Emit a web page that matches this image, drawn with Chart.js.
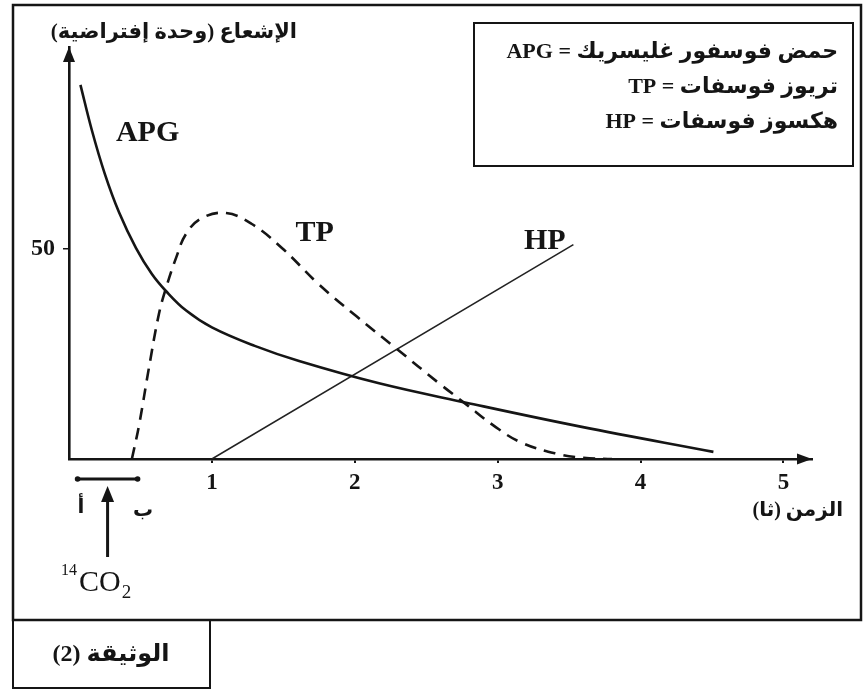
<!DOCTYPE html>
<html lang="ar">
<head>
<meta charset="utf-8">
<script src="https://cdn.jsdelivr.net/npm/chart.js@4.4.1/dist/chart.umd.min.js"></script>
<style>
  html, body { margin: 0; padding: 0; background: #fff; }
</style>
</head>
<body>
<canvas id="grafico" width="865" height="691"></canvas>
<script>
// --- dados (tempo em s, radioatividade em unidades arbitrárias) ---
const apgTempo = [0.08, 0.16, 0.25, 0.35, 0.47, 0.58, 0.68, 0.82, 1.0, 1.3, 1.61, 2.17, 2.78, 3.58, 4.51];
const apgValor = [89, 78.2, 67.9, 58.7, 50.1, 44, 39.9, 35.3, 31.3, 26.9, 23.3, 18, 13.4, 7.7, 1.7];

const tpTempo = [0.44, 0.49, 0.56, 0.63, 0.68, 0.75, 0.82, 0.93, 1.10, 1.28, 1.49, 1.75, 2.01, 2.29, 2.59, 2.78, 2.97, 3.16, 3.42, 3.6, 3.8];
const tpValor = [0, 8, 21.8, 34.6, 40.8, 47.9, 53.6, 57.3, 58.5, 55.9, 50.2, 41.5, 34, 26.3, 18, 13, 8, 4, 1.2, 0.3, 0];

const hpTempo = [1, 3.53];
const hpValor = [0, 51];

const xTicks = [1, 2, 3, 4, 5];
const yTicks = [50];

// rótulos das curvas (posição em coordenadas dos eixos)
const rotulos = [
  { texto: 'APG', t: 0.55, v: 77.5 },
  { texto: 'TP', t: 1.72, v: 53.6 },
  { texto: 'HP', t: 3.33, v: 51.8 }
];

const legenda = [
  'حمض فوسفور غليسريك = APG',
  'تريوز فوسفات = TP',
  'هكسوز فوسفات = HP'
];

const pontos = (ts, vs) => ts.map((t, i) => ({ x: t, y: vs[i] }));

const serif = "'Liberation Serif', 'DejaVu Sans', serif";
const tinta = '#151515';

// desenha moldura, caixas, setas e textos
const decor = {
  id: 'decor',
  beforeDraw(chart) {
    const c = chart.ctx;
    c.save();
    c.fillStyle = '#fff';
    c.fillRect(0, 0, chart.width, chart.height);
    c.restore();
  },
  afterDraw(chart) {
    const c = chart.ctx, xs = chart.scales.x, ys = chart.scales.y, a = chart.chartArea;
    const x0 = xs.getPixelForValue(0), y0 = ys.getPixelForValue(0);
    c.save();
    c.strokeStyle = tinta;
    c.fillStyle = tinta;

    // moldura externa e caixas
    c.lineWidth = 2.5;
    c.strokeRect(13, 5, 848, 615);
    c.lineWidth = 2;
    c.strokeRect(13, 620, 197, 68);
    c.strokeRect(474, 23, 379, 143);

    // setas dos eixos
    c.beginPath();
    c.moveTo(x0, a.top);
    c.lineTo(x0 - 6, a.top + 15);
    c.lineTo(x0 + 6, a.top + 15);
    c.closePath();
    c.fill();
    c.beginPath();
    c.moveTo(a.right, y0);
    c.lineTo(a.right - 15, y0 - 5.5);
    c.lineTo(a.right - 15, y0 + 5.5);
    c.closePath();
    c.fill();

    // rótulos das curvas
    c.font = 'bold 30px ' + serif;
    c.textAlign = 'center';
    c.textBaseline = 'middle';
    rotulos.forEach(r => {
      c.fillText(r.texto, xs.getPixelForValue(r.t), ys.getPixelForValue(r.v));
    });

    // textos em árabe
    c.direction = 'rtl';
    c.textAlign = 'right';
    c.font = 'bold 22px ' + serif;
    legenda.forEach((linha, i) => c.fillText(linha, 838, 52 + i * 35));

    c.font = 'bold 21px ' + serif;
    c.fillText('الإشعاع (وحدة إفتراضية)', 297, 33);
    c.font = 'bold 20px ' + serif;
    c.fillText('الزمن (ثا)', 843, 511);

    c.textAlign = 'center';
    c.font = 'bold 24px ' + serif;
    c.fillText('الوثيقة (2)', 111, 655);

    c.font = 'bold 20px ' + serif;
    c.fillText('أ', 81, 508);
    c.fillText('ب', 143, 511);

    // intervalo de exposição ao 14CO2
    c.direction = 'ltr';
    const bx1 = xs.getPixelForValue(0.06), bx2 = xs.getPixelForValue(0.48), by = y0 + 20;
    c.lineWidth = 3;
    c.beginPath();
    c.moveTo(bx1, by);
    c.lineTo(bx2, by);
    c.stroke();
    [bx1, bx2].forEach(px => {
      c.beginPath();
      c.arc(px, by, 2.8, 0, Math.PI * 2);
      c.fill();
    });

    const ax = (bx1 + bx2) / 2;
    c.lineWidth = 3;
    c.beginPath();
    c.moveTo(ax, 557);
    c.lineTo(ax, 498);
    c.stroke();
    c.beginPath();
    c.moveTo(ax, 486);
    c.lineTo(ax - 6.5, 502);
    c.lineTo(ax + 6.5, 502);
    c.closePath();
    c.fill();

    c.textAlign = 'left';
    c.textBaseline = 'alphabetic';
    c.font = '16px ' + serif;
    c.fillText('14', 61, 575);
    c.font = '30px ' + serif;
    c.fillText('CO', 79, 591);
    const wCO = c.measureText('CO').width;
    c.font = '19px ' + serif;
    c.fillText('2', 79 + wCO + 1, 598);

    c.restore();
  }
};

const ctx = document.getElementById('grafico').getContext('2d');

new Chart(ctx, {
  type: 'line',
  data: {
    datasets: [
      {
        label: 'APG',
        data: pontos(apgTempo, apgValor),
        borderColor: tinta,
        borderWidth: 2.6,
        tension: 0.4,
        pointRadius: 0,
        fill: false
      },
      {
        label: 'TP',
        data: pontos(tpTempo, tpValor),
        borderColor: tinta,
        borderWidth: 2.6,
        borderDash: [12, 8],
        tension: 0.4,
        pointRadius: 0,
        fill: false
      },
      {
        label: 'HP',
        data: pontos(hpTempo, hpValor),
        borderColor: '#222',
        borderWidth: 1.6,
        tension: 0,
        pointRadius: 0,
        fill: false
      }
    ]
  },
  options: {
    responsive: false,
    animation: false,
    layout: {
      padding: { left: 12, right: 53, top: 47, bottom: 192 }
    },
    plugins: {
      legend: { display: false },
      tooltip: { enabled: false }
    },
    scales: {
      x: {
        type: 'linear',
        min: 0,
        max: 5.2,
        afterBuildTicks: s => { s.ticks = xTicks.map(v => ({ value: v })); },
        afterFit: s => { s.height = 40; },
        border: { color: tinta, width: 2.6 },
        grid: { drawOnChartArea: false, drawTicks: true, tickLength: 4, color: tinta, lineWidth: 2 },
        ticks: {
          color: tinta,
          padding: 6,
          maxRotation: 0,
          font: { family: serif, size: 23, weight: 'bold' }
        }
      },
      y: {
        type: 'linear',
        min: 0,
        max: 98,
        afterBuildTicks: s => { s.ticks = yTicks.map(v => ({ value: v })); },
        afterFit: s => { s.width = 57; },
        border: { color: tinta, width: 2.6 },
        grid: { drawOnChartArea: false, drawTicks: true, tickLength: 6, color: tinta, lineWidth: 1.5 },
        ticks: {
          color: tinta,
          padding: 8,
          font: { family: serif, size: 24, weight: 'bold' }
        }
      }
    }
  },
  plugins: [decor]
});
</script>
</body>
</html>
